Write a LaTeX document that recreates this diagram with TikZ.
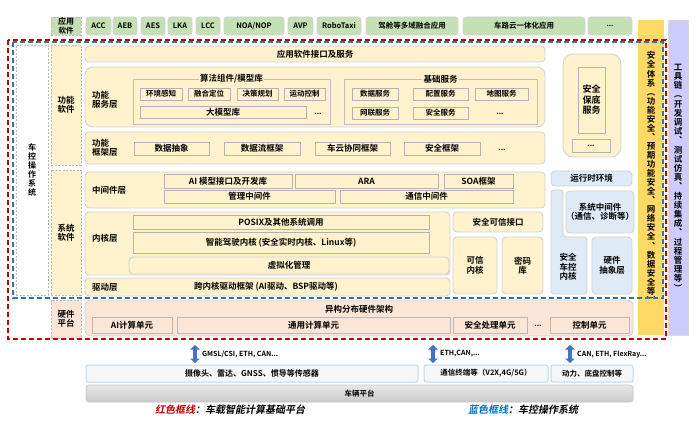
\documentclass[tikz,border=0pt]{standalone}
\usepackage{fontspec}
\setmainfont{Noto Sans CJK SC}[BoldFont={* Bold}]
\newfontfamily\legfont{Noto Sans CJK SC}[UprightFont={* Bold},FakeSlant=0.2]
\usepackage{tikz}
\usetikzlibrary{arrows.meta}
\definecolor{appgreen}{HTML}{C5E0B4}
\definecolor{swyellow}{HTML}{FFF2CC}
\definecolor{hwpeach}{HTML}{FBE5D6}
\definecolor{rtblue}{HTML}{DEEBF7}
\definecolor{safeyel}{HTML}{FFD966}
\definecolor{toollav}{HTML}{CCCCFF}
\definecolor{framered}{HTML}{C00000}
\definecolor{frameblue}{HTML}{2E75B6}
\definecolor{legblue}{HTML}{0070C0}
\definecolor{arrblue}{HTML}{4472C4}
\definecolor{extblue}{HTML}{BDD7EE}
\newcommand{\fl}{\fontsize{8.5}{9.5}\selectfont\bfseries}
\newcommand{\fs}{\fontsize{7.5}{8.5}\selectfont\bfseries}
\newcommand{\fx}{\fontsize{7}{8}\selectfont\bfseries}
% box from corner (x1,y1) to (x2,y2)
\newcommand{\blk}[7][]{\node[#2,minimum width={(#5-#3)*1pt},minimum height={(#6-#4)*1pt},#1] (#7) at ({(#3+#5)/2},{(#4+#6)/2})}
\makeatletter
\newcommand{\vstk}[2][9pt]{\vbox{\baselineskip=#1\relax\lineskiplimit=-20pt\vstk@#2\relax}}
\def\vstk@#1{\ifx\relax#1\else\hbox to 1em{\hss#1\hss}\expandafter\vstk@\fi}
\makeatother
\tikzset{
  lyr/.style={fill=swyellow, draw=gray!35, line width=0.9pt, rounded corners=4pt, inner sep=0pt, outer sep=0pt, font=\fl, align=center},
  ibox/.style={fill=swyellow, draw=gray!60, line width=0.6pt, inner sep=0pt, outer sep=0pt, font=\fs, align=center},
  grp/.style={draw=gray!50, line width=0.5pt, inner sep=0pt, outer sep=0pt},
  gtitle/.style={fill=swyellow, inner sep=1.5pt, font=\fl},
  appbox/.style={fill=appgreen, draw=gray!35, line width=0.8pt, rounded corners=3pt, inner sep=0pt, outer sep=0pt, font=\fs, align=center},
  colbox/.style={draw=gray!55, dash pattern=on 2pt off 1.5pt, line width=0.7pt, inner sep=0pt, outer sep=0pt, font=\fl, align=center},
  hwbox/.style={fill=hwpeach, draw=gray!55, line width=0.6pt, inner sep=0pt, outer sep=0pt, font=\fl},
  rtbox/.style={fill=rtblue, draw=gray!35, line width=0.9pt, rounded corners=4pt, inner sep=0pt, outer sep=0pt, font=\fl, align=center},
  lbl/.style={font=\fl, align=left, anchor=west, inner sep=0pt},
  dots/.style={font=\fs, inner sep=0pt},
  extbox/.style={fill=gray!6, draw=extblue, line width=1pt, rounded corners=2pt, inner sep=0pt, outer sep=0pt, font=\fs},
  busarr/.style={arrblue, line width=3.6pt, {Triangle[width=9.5pt,length=4.5pt]}-{Triangle[width=9.5pt,length=4.5pt]}},
  buslab/.style={font=\fx, anchor=west, inner sep=0pt},
  redfrm/.style={framered, line width=1.6pt, dash pattern=on 5pt off 3pt},
  bluefrm/.style={frameblue, line width=1.4pt, dash pattern=on 5pt off 3pt},
}
\begin{document}
\begin{tikzpicture}[x=1pt,y=-1pt]
  \useasboundingbox (0,0) rectangle (698,427);
  \blk[dash pattern=on 2pt off 1.5pt, draw=gray!55, rounded corners=0pt]{appbox}{51}{17}{81}{35}{applab}{\fontsize{8}{8.8}\selectfont\bfseries 应用\\软件};
  \foreach \xa/\xb/\nm/\txt in {86/111/acc/ACC, 113/137/aeb/AEB, 141/165/aes/AES, 168/192/lka/LKA,
      196/220/lcc/LCC, 224/284/noa/{NOA/NOP}, 288/313/avp/AVP, 317/361/robo/RoboTaxi,
      366/458/cabin/驾舱等多域融合应用, 463/585/vrc/车路云一体化应用}
    {\blk{appbox}{\xa}{17}{\xb}{35}{\nm}{\txt};}
  \blk{appbox}{588}{17}{632}{35}{appmore}{\fx ...};

  \blk[fill=safeyel, draw=none, rounded corners=0pt]{lyr}{638}{20}{664}{335}{safecol}{\vstk[9.05pt]{安全体系︵功能安全︑预期功能安全︑网络安全︑数据安全等︶}};
  \blk[fill=toollav, draw=gray!30, rounded corners=0pt]{lyr}{668}{20}{688}{335}{toolcol}{\vstk[9.2pt]{工具链︵开发调试︑测试仿真︑持续集成︑过程管理等︶}};

  \blk[fill=white]{colbox}{16}{45}{48}{295}{osbox}{\fontsize{8}{9}\selectfont\bfseries\vstk[9pt]{车控操作系统}};
  \blk[fill=swyellow]{colbox}{51}{45}{81}{165}{fsw}{功能\\软件};
  \blk[fill=swyellow]{colbox}{51}{170}{81}{295}{ssw}{系统\\软件};
  \blk[fill=hwpeach]{colbox}{51}{300}{81}{338}{hwp}{硬件\\平台};

  \blk{lyr}{85}{46}{545}{62}{apiif}{应用软件接口及服务};
  \blk[rounded corners=8pt]{lyr}{85}{67}{545}{127}{fsvc}{};
  \node[lbl] (fsvclab) at (92,100) {功能\\服务层};
  \blk{grp}{133}{79}{330}{124}{algo}{};
  \node[gtitle] (algot) at (algo.north) {算法组件/模型库};
  \blk{ibox}{140}{88}{182}{100}{envp}{环境感知};
  \blk{ibox}{188}{88}{230}{100}{fusl}{融合定位};
  \blk{ibox}{237}{88}{278}{100}{plan}{决策规划};
  \blk{ibox}{284}{88}{325}{100}{mctl}{运动控制};
  \blk[font=\fl]{ibox}{140}{106}{306}{118}{llm}{大模型库};
  \node[dots] (algomore) at (318,114) {...};
  \blk{grp}{344}{79}{537}{124}{basesvc}{};
  \node[gtitle] (basesvct) at (basesvc.north) {基础服务};
  \blk{ibox}{352}{88}{398}{100}{datasvc}{数据服务};
  \blk{ibox}{413}{88}{468}{100}{cfgsvc}{配置服务};
  \blk{ibox}{475}{88}{528}{100}{mapsvc}{地图服务};
  \blk{ibox}{352}{107}{398}{119}{netsvc}{网联服务};
  \blk{ibox}{413}{107}{468}{119}{secsvc}{安全服务};
  \node[dots] (basemore) at (500,114) {...};

  \blk{lyr}{85}{132}{545}{164}{ffrm}{};
  \node[lbl] (ffrmlab) at (92,148) {功能\\框架层};
  \blk[font=\fl]{ibox}{134}{142}{209}{155}{dabs}{数据抽象};
  \blk[font=\fl]{ibox}{224}{142}{300}{155}{dflow}{数据流框架};
  \blk[font=\fl]{ibox}{315}{142}{390}{155}{vcloud}{车云协同框架};
  \blk[font=\fl]{ibox}{404}{142}{480}{155}{secfrm}{安全框架};
  \node[dots] (frmmore) at (502,150) {...};

  \blk{lyr}{85}{172}{545}{208}{mwl}{};
  \node[lbl] (mwllab) at (92,190) {中间件层};
  \blk[font=\fl]{ibox}{164}{174}{292}{188}{aiif}{AI 模型接口及开发库};
  \blk[font=\fl]{ibox}{295}{174}{438}{188}{ara}{ARA};
  \blk[font=\fl]{ibox}{444}{174}{513}{188}{soa}{SOA框架};
  \blk[font=\fl]{ibox}{164}{190}{335}{203}{mgmw}{管理中间件};
  \blk[font=\fl]{ibox}{340}{190}{513}{203}{comw}{通信中间件};

  \blk{lyr}{85}{212}{450}{275}{kern}{};
  \node[lbl] (kernlab) at (92,238) {内核层};
  \blk[font=\fl]{ibox}{133}{215}{429}{229}{posix}{POSIX及其他系统调用};
  \blk[font=\fl]{ibox}{133}{232}{429}{253}{adkern}{智能驾驶内核 (安全实时内核、Linux等)};
  \blk{lyr}{129}{257}{449}{274}{virt}{虚拟化管理};
  \blk{lyr}{85}{278}{450}{296}{drv}{};
  \node[lbl] (drvlab) at (92,287) {驱动层};
  \node[font=\fl, inner sep=0pt] (drvtxt) at (266,287) {跨内核驱动框架 (AI驱动、BSP驱动等)};

  \blk{lyr}{453}{212}{543}{232}{tsif}{安全可信接口};
  \blk{lyr}{453}{237}{497}{294}{tkern}{可信\\内核};
  \blk{lyr}{502}{237}{543}{294}{crypto}{密码\\库};

  \blk[rounded corners=10pt]{lyr}{563}{54}{621}{157}{fbsvc}{};
  \blk[font=\fontsize{9}{10.5}\selectfont\bfseries]{ibox}{578}{67}{605}{133}{fbin}{安全\\保底\\服务};
  \blk{ibox}{572}{139}{610}{152}{fbmore}{...};

  \blk{rtbox}{551}{171}{632}{186}{rte}{运行时环境};
  \draw[fill=rtblue, draw=gray!35, line width=0.9pt, rounded corners=3pt]
    (551,190) -- (563,190) -- (563,237) -- (587,237) -- (587,294) -- (551,294) -- cycle;
  \node[font=\fl, align=center, inner sep=0pt] (sckern) at (568,267) {安全\\车控\\内核};
  \blk{rtbox}{568}{191}{632}{233}{sysmw}{系统中间件\\（通信、诊断等）};
  \blk{rtbox}{592}{237}{632}{294}{hal}{硬件\\抽象层};

  \blk[fill=hwpeach, draw=gray!35, line width=0.9pt, rounded corners=5pt]{hwbox}{85}{300}{633}{336}{hwarch}{};
  \node[font=\fl, inner sep=0pt] (hwarcht) at (359,309) {异构分布硬件架构};
  \blk{hwbox}{92}{317}{172}{333}{aicu}{AI计算单元};
  \blk{hwbox}{177}{317}{450}{333}{gpcu}{通用计算单元};
  \blk{hwbox}{453}{317}{527}{333}{secu}{安全处理单元};
  \node[dots] (hwmore) at (538,326) {...};
  \blk{hwbox}{550}{317}{629}{333}{ctlu}{控制单元};

  \coordinate (b1t) at (195,345); \coordinate (b1b) at (195,363);
  \coordinate (b2t) at (433,345); \coordinate (b2b) at (433,363);
  \coordinate (b3t) at (570,345); \coordinate (b3b) at (570,363);
  \draw[busarr] (b1t) -- (b1b);
  \draw[busarr] (b2t) -- (b2b);
  \draw[busarr] (b3t) -- (b3b);
  \node[buslab] (bus1) at (202,354) {GMSL/CSI, ETH, CAN...};
  \node[buslab] (bus2) at (440,354) {ETH,CAN,...};
  \node[buslab] (bus3) at (577,354) {CAN, ETH, FlexRay...};

  \blk[font=\fontsize{8}{9}\selectfont\bfseries]{extbox}{86}{365}{418}{382}{sens}{摄像头、雷达、GNSS、惯导等传感器};
  \blk{extbox}{424}{365}{548}{382}{comterm}{通信终端等（V2X,4G/5G）};
  \blk{extbox}{551}{365}{633}{382}{chassis}{动力、底盘控制等};
  \blk[top color=gray!18, bottom color=gray!42, draw=gray!45, line width=0.8pt, rounded corners=3pt, font=\fs]{hwbox}{86}{385}{633}{402}{vehicle}{车辆平台};

  \node[font=\legfont\fontsize{10}{11}\selectfont, inner sep=0pt] (legred) at (230,410) {\textcolor{framered}{红色框线}：车载智能计算基础平台};
  \node[font=\legfont\fontsize{10}{11}\selectfont, inner sep=0pt] (legblue) at (523,410) {\textcolor{legblue}{蓝色框线}：车控操作系统};

  \draw[redfrm] (8,40) rectangle (666,339);
  \draw[bluefrm] (13,42) rectangle (663,298);
\end{tikzpicture}
\end{document}
